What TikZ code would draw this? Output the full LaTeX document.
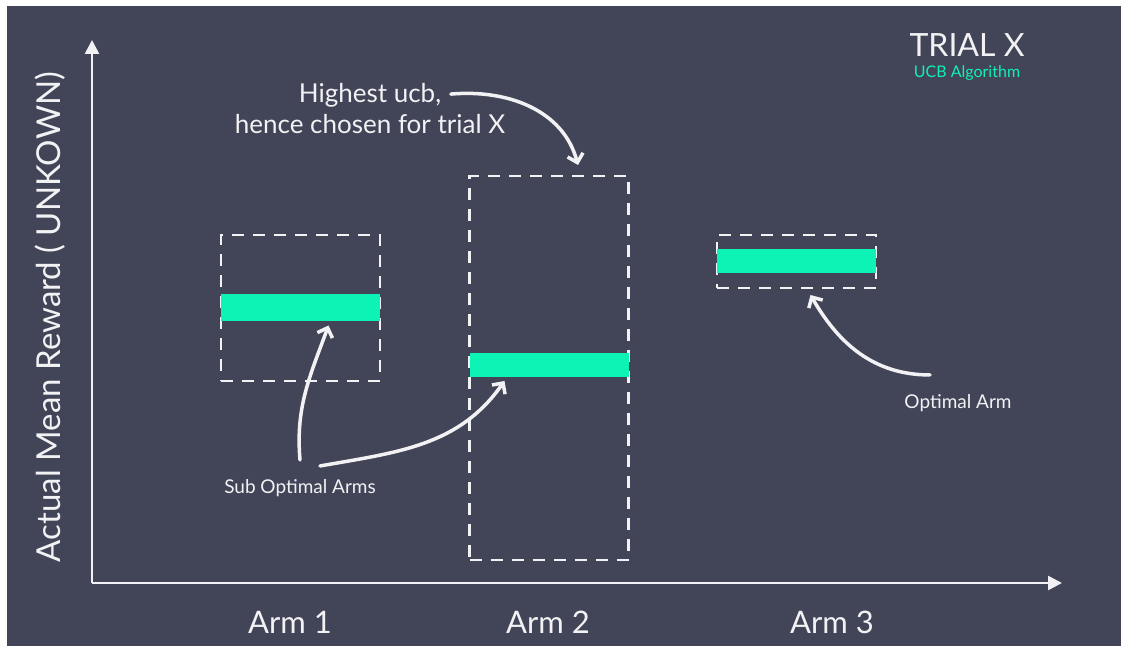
\documentclass[tikz,border=0pt]{standalone}
\usepackage{fontspec}
\setmainfont{Lato}
\usepackage{xcolor}
\usepackage{tikz}
\usetikzlibrary{arrows.meta,positioning,calc}

\definecolor{slate}{HTML}{424458}
\definecolor{mint}{HTML}{0DF2B5}
\definecolor{chalk}{HTML}{F2F2F4}

\begin{document}
\begin{tikzpicture}[x=1pt, y=1pt, thick,
    box/.style={draw=chalk, line width=2.5pt, dash pattern=on 12pt off 9pt, inner sep=0pt, outer sep=0pt, minimum width=159pt},
    bar/.style={fill=mint, inner sep=0pt, outer sep=0pt, minimum width=159pt},
    note/.style={text=chalk, font=\fontsize{19}{22}\selectfont, inner sep=1pt},
    arm/.style={text=chalk, font=\fontsize{31}{36}\selectfont},
    axis/.style={draw=chalk, line width=2.5pt, -{Triangle[length=14pt, width=14pt]}},
    pointer/.style={draw=chalk, line width=3.5pt, line cap=round, -{Straight Barb[length=8pt, width=16pt, line width=3.5pt]}}]
    % background
    \fill [white] (0,0) rectangle (1121,648);
    \fill [slate] (7,2) rectangle (1121,642);
    % axes
    \coordinate (o) at (92,65);
    \coordinate (ytip) at (92,608);
    \coordinate (xtip) at (1062,65);
    \draw [axis] (o) -- (ytip);
    \draw [axis] (o) -- (xtip);
    \node [text=chalk, rotate=90, font=\fontsize{33}{38}\selectfont] (ylab) at (50,331) {Actual Mean Reward ( UNKOWN)};
    % arms
    \node [box, minimum height=146pt] (box1) at (300.5,340) {};
    \node [box, minimum height=384pt] (box2) at (549,280) {};
    \node [box, minimum height=53pt] (box3) at (796.5,386.5) {};
    \node [bar, minimum height=27pt] (bar1) at (box1.center) {};
    \node [bar, minimum height=24pt] (bar2) at (549,283) {};
    \node [bar, minimum height=24pt] (bar3) at (box3.center) {};
    \node [arm] (arm1) at (290,26) {Arm 1};
    \node [arm] (arm2) at (548,26) {Arm 2};
    \node [arm] (arm3) at (832,26) {Arm 3};
    % title
    \node [text=chalk, font=\fontsize{32}{36}\selectfont] (trial) at (967,603) {TRIAL X};
    \node [text=mint, font=\fontsize{16}{18}\selectfont, below=2pt of trial] (algo) {UCB Algorithm};
    % notes
    \node [text=chalk, align=center, font=\fontsize{26}{31}\selectfont] (ucbnote) at (370,539) {Highest ucb,\\hence chosen for trial X};
    \node [note] (sub) at (300,160) {Sub Optimal Arms};
    \node [note] (opt) at (958,245) {Optimal Arm};
    \draw [pointer] ($(ucbnote.north east)+(-58,-14)$) to[out=5, in=105] ($(box2.north)+(29,11)$);
    \draw [pointer] ($(sub.north)+(0,18)$) to[out=95, in=-110] ($(bar1.south)+(28,-4)$);
    \draw [pointer] ($(sub.north)+(20,12)$) to[out=10, in=-125] ($(bar2.south west)+(35,-4)$);
    \draw [pointer] ($(opt.north)+(-28,18)$) to[out=180, in=-60] ($(box3.south)+(14,-7)$);
\end{tikzpicture}
\end{document}
